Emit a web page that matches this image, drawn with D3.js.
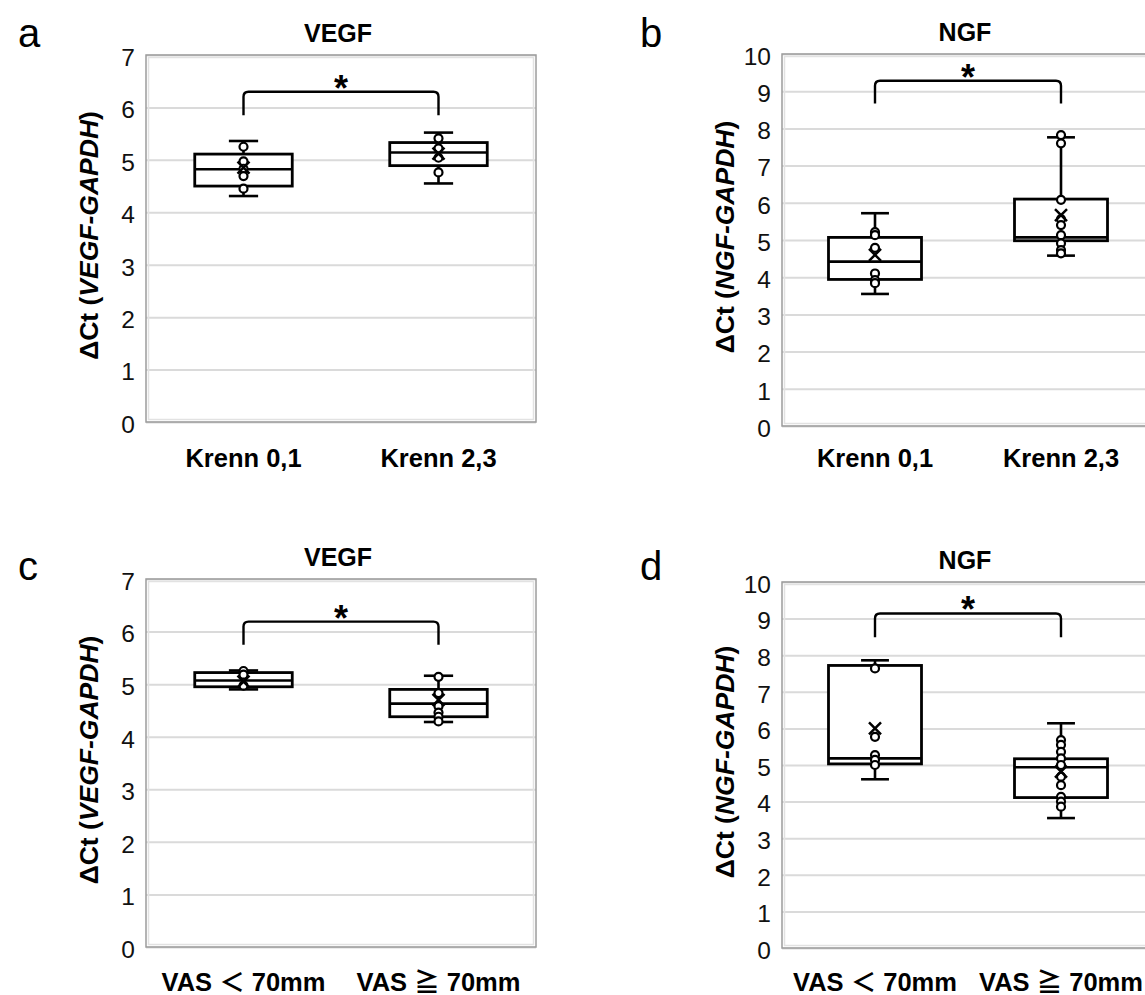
<!DOCTYPE html>
<html>
<head>
<meta charset="utf-8">
<script src="https://cdn.jsdelivr.net/npm/d3@7"></script>
<style>
  body { margin: 0; background: #fff; }
  svg { display: block; font-family: "Liberation Sans", Arial, "Noto Sans CJK JP", sans-serif; }
</style>
</head>
<body>
<div id="chart"></div>
<script>
// categories
var krennGroups = ["Krenn 0,1", "Krenn 2,3"];
var vasGroups = ["VAS \uFF1C 70mm", "VAS \u2267 70mm"];

// y tick values
var vegfTicks = [0, 1, 2, 3, 4, 5, 6, 7];
var ngfTicks = [0, 1, 2, 3, 4, 5, 6, 7, 8, 9, 10];

// box stats per group: [min, q1, median, q3, max]
var aStats = [[4.31, 4.50, 4.82, 5.11, 5.36], [4.55, 4.89, 5.14, 5.33, 5.52]];
var aMeans = [4.85, 5.12];
var aPoints = [[5.25, 4.97, 4.83, 4.69, 4.45], [5.41, 5.22, 5.04, 4.76]];
var aSig = [5.85, 6.30];

var bStats = [[3.55, 3.94, 4.42, 5.07, 5.72], [4.58, 4.98, 5.07, 6.10, 7.76]];
var bMeans = [4.60, 5.67];
var bPoints = [[5.21, 5.13, 4.79, 4.10, 3.92, 3.84], [7.82, 7.60, 6.08, 5.56, 5.40, 5.13, 4.91, 4.73, 4.64]];
var bSig = [8.67, 9.28];

var cStats = [[4.90, 4.95, 5.07, 5.22, 5.26], [4.28, 4.38, 4.63, 4.90, 5.16]];
var cMeans = [5.05, 4.70];
var cPoints = [[5.25, 5.18, 4.97], [5.14, 4.83, 4.58, 4.46, 4.38, 4.29]];
var cSig = [5.75, 6.19];

var dStats = [[4.61, 5.03, 5.18, 7.72, 7.86], [3.55, 4.11, 4.94, 5.17, 6.14]];
var dMeans = [6.00, 4.82];
var dPoints = [[7.64, 5.77, 5.27, 5.14, 5.00], [5.68, 5.55, 5.36, 5.18, 5.00, 4.68, 4.45, 4.13, 4.00, 3.86]];
var dSig = [8.49, 9.14];

var svg = d3.select("#chart")
    .append("svg")
        .attr("width", 1145)
        .attr("height", 995);

var panels = [
    {letter: "a", lx: 18, ly: 47, title: "VEGF", gene: "VEGF", groups: krennGroups, ticks: vegfTicks,
     x0: 146, x1: 536, yTop: 55, yBot: 422, stats: aStats, means: aMeans, points: aPoints, sig: aSig, catY: 467},
    {letter: "b", lx: 640, ly: 47, title: "NGF", gene: "NGF", groups: krennGroups, ticks: ngfTicks,
     x0: 782, x1: 1154, yTop: 54, yBot: 426, stats: bStats, means: bMeans, points: bPoints, sig: bSig, catY: 467},
    {letter: "c", lx: 18, ly: 580, title: "VEGF", gene: "VEGF", groups: vasGroups, ticks: vegfTicks,
     x0: 146, x1: 536, yTop: 579, yBot: 947, stats: cStats, means: cMeans, points: cPoints, sig: cSig, catY: 991},
    {letter: "d", lx: 640, ly: 580, title: "NGF", gene: "NGF", groups: vasGroups, ticks: ngfTicks,
     x0: 782, x1: 1154, yTop: 582, yBot: 948, stats: dStats, means: dMeans, points: dPoints, sig: dSig, catY: 991}
];

panels.forEach(function(p) {
    var g = svg.append("g");
    var w = p.x1 - p.x0;

    var x = d3.scaleBand()
        .domain(p.groups)
        .range([p.x0, p.x1]);
    var y = d3.scaleLinear()
        .domain([0, d3.max(p.ticks)])
        .range([p.yBot, p.yTop]);

    // panel letter
    g.append("text")
        .attr("x", p.lx).attr("y", p.ly)
        .style("font-size", "40px")
        .text(p.letter);

    // title
    g.append("text")
        .attr("x", (p.x0 + p.x1) / 2 - 3).attr("y", p.yTop - 13)
        .attr("text-anchor", "middle")
        .style("font-size", "25px").style("font-weight", "bold")
        .text(p.title);

    // gridlines
    var grid = g.append("g")
        .attr("transform", "translate(" + p.x0 + ",0)")
        .call(d3.axisLeft(y).tickValues(p.ticks).tickSize(-w).tickFormat(""));
    grid.select(".domain").remove();
    grid.selectAll("line").attr("stroke", "#dadada").attr("stroke-width", 2);

    // frame
    g.append("rect")
        .attr("x", p.x0).attr("y", p.yTop)
        .attr("width", w).attr("height", p.yBot - p.yTop)
        .attr("fill", "none").attr("stroke", "#9c9c9c").attr("stroke-width", 1.5);
    g.append("rect")
        .attr("x", p.x0 + 2.5).attr("y", p.yTop + 2.5)
        .attr("width", w - 5).attr("height", p.yBot - p.yTop - 5)
        .attr("fill", "none").attr("stroke", "#e2e2e2").attr("stroke-width", 1.5);

    // y axis labels
    var yAxis = g.append("g")
        .attr("transform", "translate(" + (p.x0 - 2) + ",0)")
        .call(d3.axisLeft(y).tickValues(p.ticks).tickSize(0).tickPadding(9).tickFormat(d3.format("d")));
    yAxis.select(".domain").remove();
    yAxis.selectAll("text")
        .attr("dy", "0.42em")
        .style("font-size", "24.5px")
        .style("font-family", "'Liberation Sans', Arial, sans-serif")
        .attr("fill", "#111");

    // y axis title
    var yt = g.append("text")
        .attr("transform", "translate(" + (p.x0 - 48) + "," + ((p.yTop + p.yBot) / 2 - 3) + ") rotate(-90)")
        .attr("text-anchor", "middle")
        .style("font-size", "26.5px").style("font-weight", "bold");
    yt.append("tspan").text("\u0394Ct (");
    yt.append("tspan").style("font-style", "italic").text(p.gene + "-GAPDH");
    yt.append("tspan").text(")");

    // x category labels
    g.selectAll(".cat")
        .data(p.groups)
        .enter()
        .append("text")
        .attr("x", function(d) { return x(d) + x.bandwidth() / 2; })
        .attr("y", p.catY)
        .attr("text-anchor", "middle")
        .style("font-size", "25.5px").style("font-weight", "bold")
        .text(function(d) { return d; });

    var boxW = x.bandwidth() * 0.5;
    var capW = x.bandwidth() * 0.15;

    p.groups.forEach(function(name, i) {
        var s = p.stats[i];
        var cx = x(name) + x.bandwidth() / 2;
        var bg = g.append("g");

        // whiskers
        bg.append("line")
            .attr("x1", cx).attr("x2", cx)
            .attr("y1", y(s[0])).attr("y2", y(s[1]))
            .attr("stroke", "#000").attr("stroke-width", 2.6);
        bg.append("line")
            .attr("x1", cx).attr("x2", cx)
            .attr("y1", y(s[3])).attr("y2", y(s[4]))
            .attr("stroke", "#000").attr("stroke-width", 2.6);
        [s[0], s[4]].forEach(function(v) {
            bg.append("line")
                .attr("x1", cx - capW / 2).attr("x2", cx + capW / 2)
                .attr("y1", y(v)).attr("y2", y(v))
                .attr("stroke", "#000").attr("stroke-width", 2.6);
        });

        // box
        bg.append("rect")
            .attr("x", cx - boxW / 2).attr("y", y(s[3]))
            .attr("width", boxW).attr("height", y(s[1]) - y(s[3]))
            .attr("fill", "#fff").attr("stroke", "#000").attr("stroke-width", 2.8);
        bg.append("line")
            .attr("x1", cx - boxW / 2).attr("x2", cx + boxW / 2)
            .attr("y1", y(s[2])).attr("y2", y(s[2]))
            .attr("stroke", "#000").attr("stroke-width", 2.6);

        // points
        bg.selectAll("circle")
            .data(p.points[i])
            .enter()
            .append("circle")
            .attr("cx", cx)
            .attr("cy", function(d) { return y(d); })
            .attr("r", 4)
            .attr("fill", "#fff")
            .attr("stroke", "#000")
            .attr("stroke-width", 2.2);

        // mean marker
        var my = y(p.means[i]), m = 6;
        bg.append("path")
            .attr("d", "M" + (cx - m) + "," + (my - m) + "L" + (cx + m) + "," + (my + m) +
                       "M" + (cx + m) + "," + (my - m) + "L" + (cx - m) + "," + (my + m))
            .attr("stroke", "#000").attr("stroke-width", 2.5).attr("fill", "none");
    });

    // significance bracket
    var bx0 = x(p.groups[0]) + x.bandwidth() / 2;
    var bx1 = x(p.groups[1]) + x.bandwidth() / 2;
    var yl = y(p.sig[0]), yt2 = y(p.sig[1]), r = 5;
    g.append("path")
        .attr("d", "M" + bx0 + "," + yl + "L" + bx0 + "," + (yt2 + r) +
                   "Q" + bx0 + "," + yt2 + " " + (bx0 + r) + "," + yt2 +
                   "L" + (bx1 - r) + "," + yt2 +
                   "Q" + bx1 + "," + yt2 + " " + bx1 + "," + (yt2 + r) +
                   "L" + bx1 + "," + yl)
        .attr("fill", "none").attr("stroke", "#000").attr("stroke-width", 2.4);
    g.append("text")
        .attr("x", (bx0 + bx1) / 2).attr("y", yt2 + 9)
        .attr("text-anchor", "middle")
        .style("font-size", "36px").style("font-weight", "bold")
        .text("*");
});
</script>
</body>
</html>
